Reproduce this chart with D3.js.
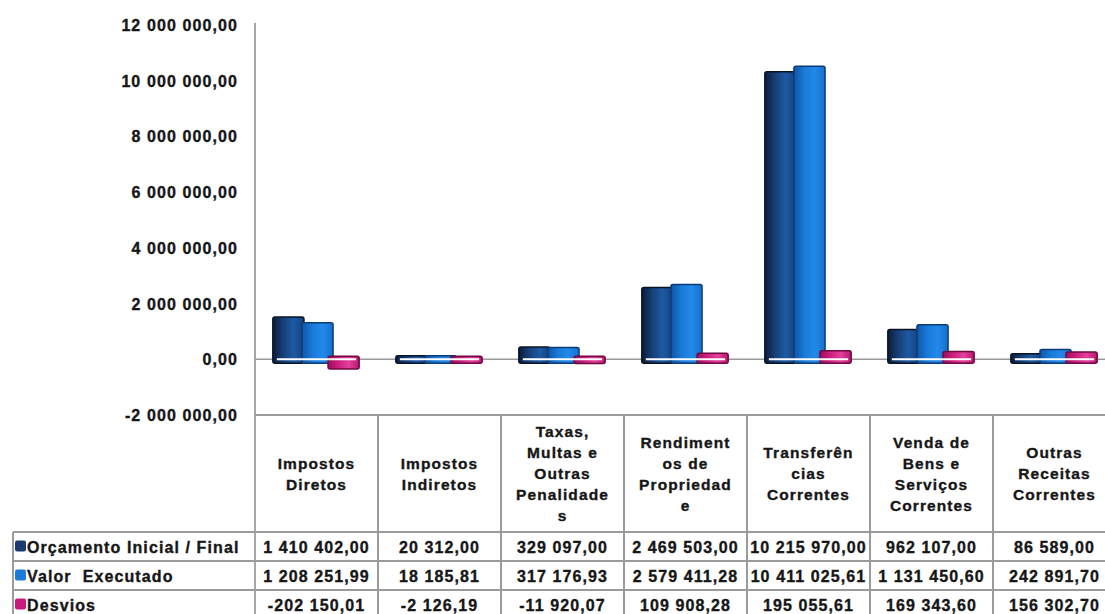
<!DOCTYPE html>
<html>
<head>
<meta charset="utf-8">
<script src="https://cdn.jsdelivr.net/npm/d3@7"></script>
<style>
  html, body { margin: 0; padding: 0; background: #ffffff; }
  svg { display: block; }
  text { font-family: "Liberation Sans", Arial, sans-serif; font-weight: bold; fill: #161616; stroke: #161616; stroke-width: 0.35px; letter-spacing: 1.1px; white-space: pre; }
</style>
</head>
<body>
<svg id="chart" width="1105" height="614"></svg>
<script>
// ---- data ----
const categories = ["Impostos Diretos", "Impostos Indiretos", "Taxas, Multas e Outras Penalidades",
  "Rendimentos de Propriedade", "Transferências Correntes", "Venda de Bens e Serviços Correntes",
  "Outras Receitas Correntes"];
const categoryLines = [
  ["Impostos", "Diretos"],
  ["Impostos", "Indiretos"],
  ["Taxas,", "Multas e", "Outras", "Penalidade", "s"],
  ["Rendiment", "os de", "Propriedad", "e"],
  ["Transferên", "cias", "Correntes"],
  ["Venda de", "Bens e", "Serviços", "Correntes"],
  ["Outras", "Receitas", "Correntes"]
];
const seriesNames = ["Orçamento Inicial / Final", "Valor  Executado", "Desvios"];
const orcamento = [1410402.00, 20312.00, 329097.00, 2469503.00, 10215970.00, 962107.00, 86589.00];
const executado = [1208251.99, 18185.81, 317176.93, 2579411.28, 10411025.61, 1131450.60, 242891.70];
const desvios = [-202150.01, -2126.19, -11920.07, 109908.28, 195055.61, 169343.60, 156302.70];
const yTicks = [-2000000, 0, 2000000, 4000000, 6000000, 8000000, 10000000, 12000000];

const seriesValues = [orcamento, executado, desvios];

// ---- layout ----
const svg = d3.select("#chart");
const plotLeft = 255, plotTop = 25, plotBottom = 415;
const colW = 123;
const tableRight = plotLeft + colW * categories.length;
const headerBottom = 532, rowH = 29;
const legendLeft = 13;

const locale = d3.formatLocale({ decimal: ",", thousands: " ", grouping: [3], currency: ["", ""], minus: "-" });
const fmt = locale.format(",.2f");

const y = d3.scaleLinear().domain([-2000000, 12000000]).range([plotBottom, plotTop]);
const x = d3.scaleBand().domain(categories).range([plotLeft, tableRight])
  .paddingInner(0.29).paddingOuter(0.145);
const xs = d3.scaleBand().domain(d3.range(3)).range([0, x.bandwidth()]).padding(0);

// gradients
const defs = svg.append("defs");
const grads = [
  { id: "g0", stops: ["#0a1c38", "#173f78", "#1d5aa3", "#15407c"], stroke: "#0a1426" },
  { id: "g1", stops: ["#0f56a6", "#1a7ad8", "#2289ea", "#1670cc"], stroke: "#0c3c78" },
  { id: "g2", stops: ["#9c0f5a", "#cf1f82", "#e2409a", "#b9156f"], stroke: "#6e0a40" }
];
grads.forEach(g => {
  const lg = defs.append("linearGradient").attr("id", g.id).attr("x1", 0).attr("x2", 1).attr("y1", 0).attr("y2", 0);
  g.stops.forEach((c, i) => lg.append("stop").attr("offset", i / (g.stops.length - 1)).attr("stop-color", c));
});

// y axis line
svg.append("line").attr("x1", plotLeft).attr("x2", plotLeft).attr("y1", plotTop - 2).attr("y2", 614)
  .attr("stroke", "#8a8a8a").attr("stroke-width", 1.5);

// y tick labels
svg.append("g").selectAll("text").data(yTicks).join("text")
  .attr("x", 238).attr("y", d => y(d) + 6)
  .attr("text-anchor", "end").attr("font-size", 16)
  .text(d => fmt(d));

// zero line
svg.append("line").attr("x1", plotLeft).attr("x2", 1105).attr("y1", y(0)).attr("y2", y(0))
  .attr("stroke", "#9a9a9a").attr("stroke-width", 1.5);

// bars
const groups = svg.append("g").selectAll("g").data(categories).join("g")
  .attr("transform", d => `translate(${x(d)},0)`);

groups.each(function (cat, ci) {
  const g = d3.select(this);
  seriesValues.forEach((vals, si) => {
    const v = vals[ci];
    const top = y(Math.max(v, 0)) - 3;
    const bot = y(Math.min(v, 0)) + 4;
    g.append("rect")
      .attr("x", xs(si) - (si === 2 ? 3 : 0))
      .attr("y", top)
      .attr("width", xs.bandwidth() + 2)
      .attr("height", bot - top)
      .attr("rx", 2).attr("ry", 2)
      .attr("fill", `url(#g${si})`)
      .attr("stroke", grads[si].stroke).attr("stroke-width", 1.5);
  });
  g.append("line").attr("x1", 4).attr("x2", x.bandwidth() - 4)
    .attr("y1", y(0)).attr("y2", y(0))
    .attr("stroke", "#ffffff").attr("stroke-width", 2);
});

// ---- table ----
const lineColor = "#9b9b9b";
const tbl = svg.append("g");
tbl.append("line").attr("x1", plotLeft).attr("x2", 1105).attr("y1", plotBottom).attr("y2", plotBottom)
  .attr("stroke", lineColor).attr("stroke-width", 2);
[0, 1, 2, 3].forEach(i => {
  tbl.append("line").attr("x1", legendLeft).attr("x2", 1105)
    .attr("y1", headerBottom + i * rowH).attr("y2", headerBottom + i * rowH)
    .attr("stroke", lineColor).attr("stroke-width", 2);
});
tbl.append("line").attr("x1", legendLeft).attr("x2", legendLeft).attr("y1", headerBottom).attr("y2", 614)
  .attr("stroke", lineColor).attr("stroke-width", 2);
d3.range(1, categories.length + 1).forEach(i => {
  const xx = plotLeft + i * colW;
  tbl.append("line").attr("x1", xx).attr("x2", xx).attr("y1", plotBottom).attr("y2", 614)
    .attr("stroke", lineColor).attr("stroke-width", 2);
});

// header labels
const headerMid = (plotBottom + headerBottom) / 2;
const lh = 21;
categories.forEach((cat, ci) => {
  const lines = categoryLines[ci];
  const cx = plotLeft + ci * colW + colW / 2;
  const t = tbl.append("text").attr("text-anchor", "middle").attr("font-size", 15.5);
  lines.forEach((ln, li) => {
    t.append("tspan").attr("x", cx)
      .attr("y", headerMid - (lines.length - 1) * lh / 2 + li * lh + 5.5)
      .text(ln);
  });
});

// legend rows + values
const legendColors = ["#1d3a6e", "#1a7cd8", "#c8197f"];
seriesNames.forEach((name, si) => {
  const cy = headerBottom + si * rowH + rowH / 2;
  tbl.append("rect").attr("x", 15).attr("y", cy - 6).attr("width", 11).attr("height", 11)
    .attr("rx", 2).attr("fill", legendColors[si]);
  tbl.append("text").attr("x", 27).attr("y", cy + 6).attr("font-size", 16).text(name);
  seriesValues[si].forEach((v, ci) => {
    tbl.append("text").attr("x", plotLeft + ci * colW + colW / 2).attr("y", cy + 6)
      .attr("text-anchor", "middle").attr("font-size", 16).text(fmt(v));
  });
});
</script>
</body>
</html>
